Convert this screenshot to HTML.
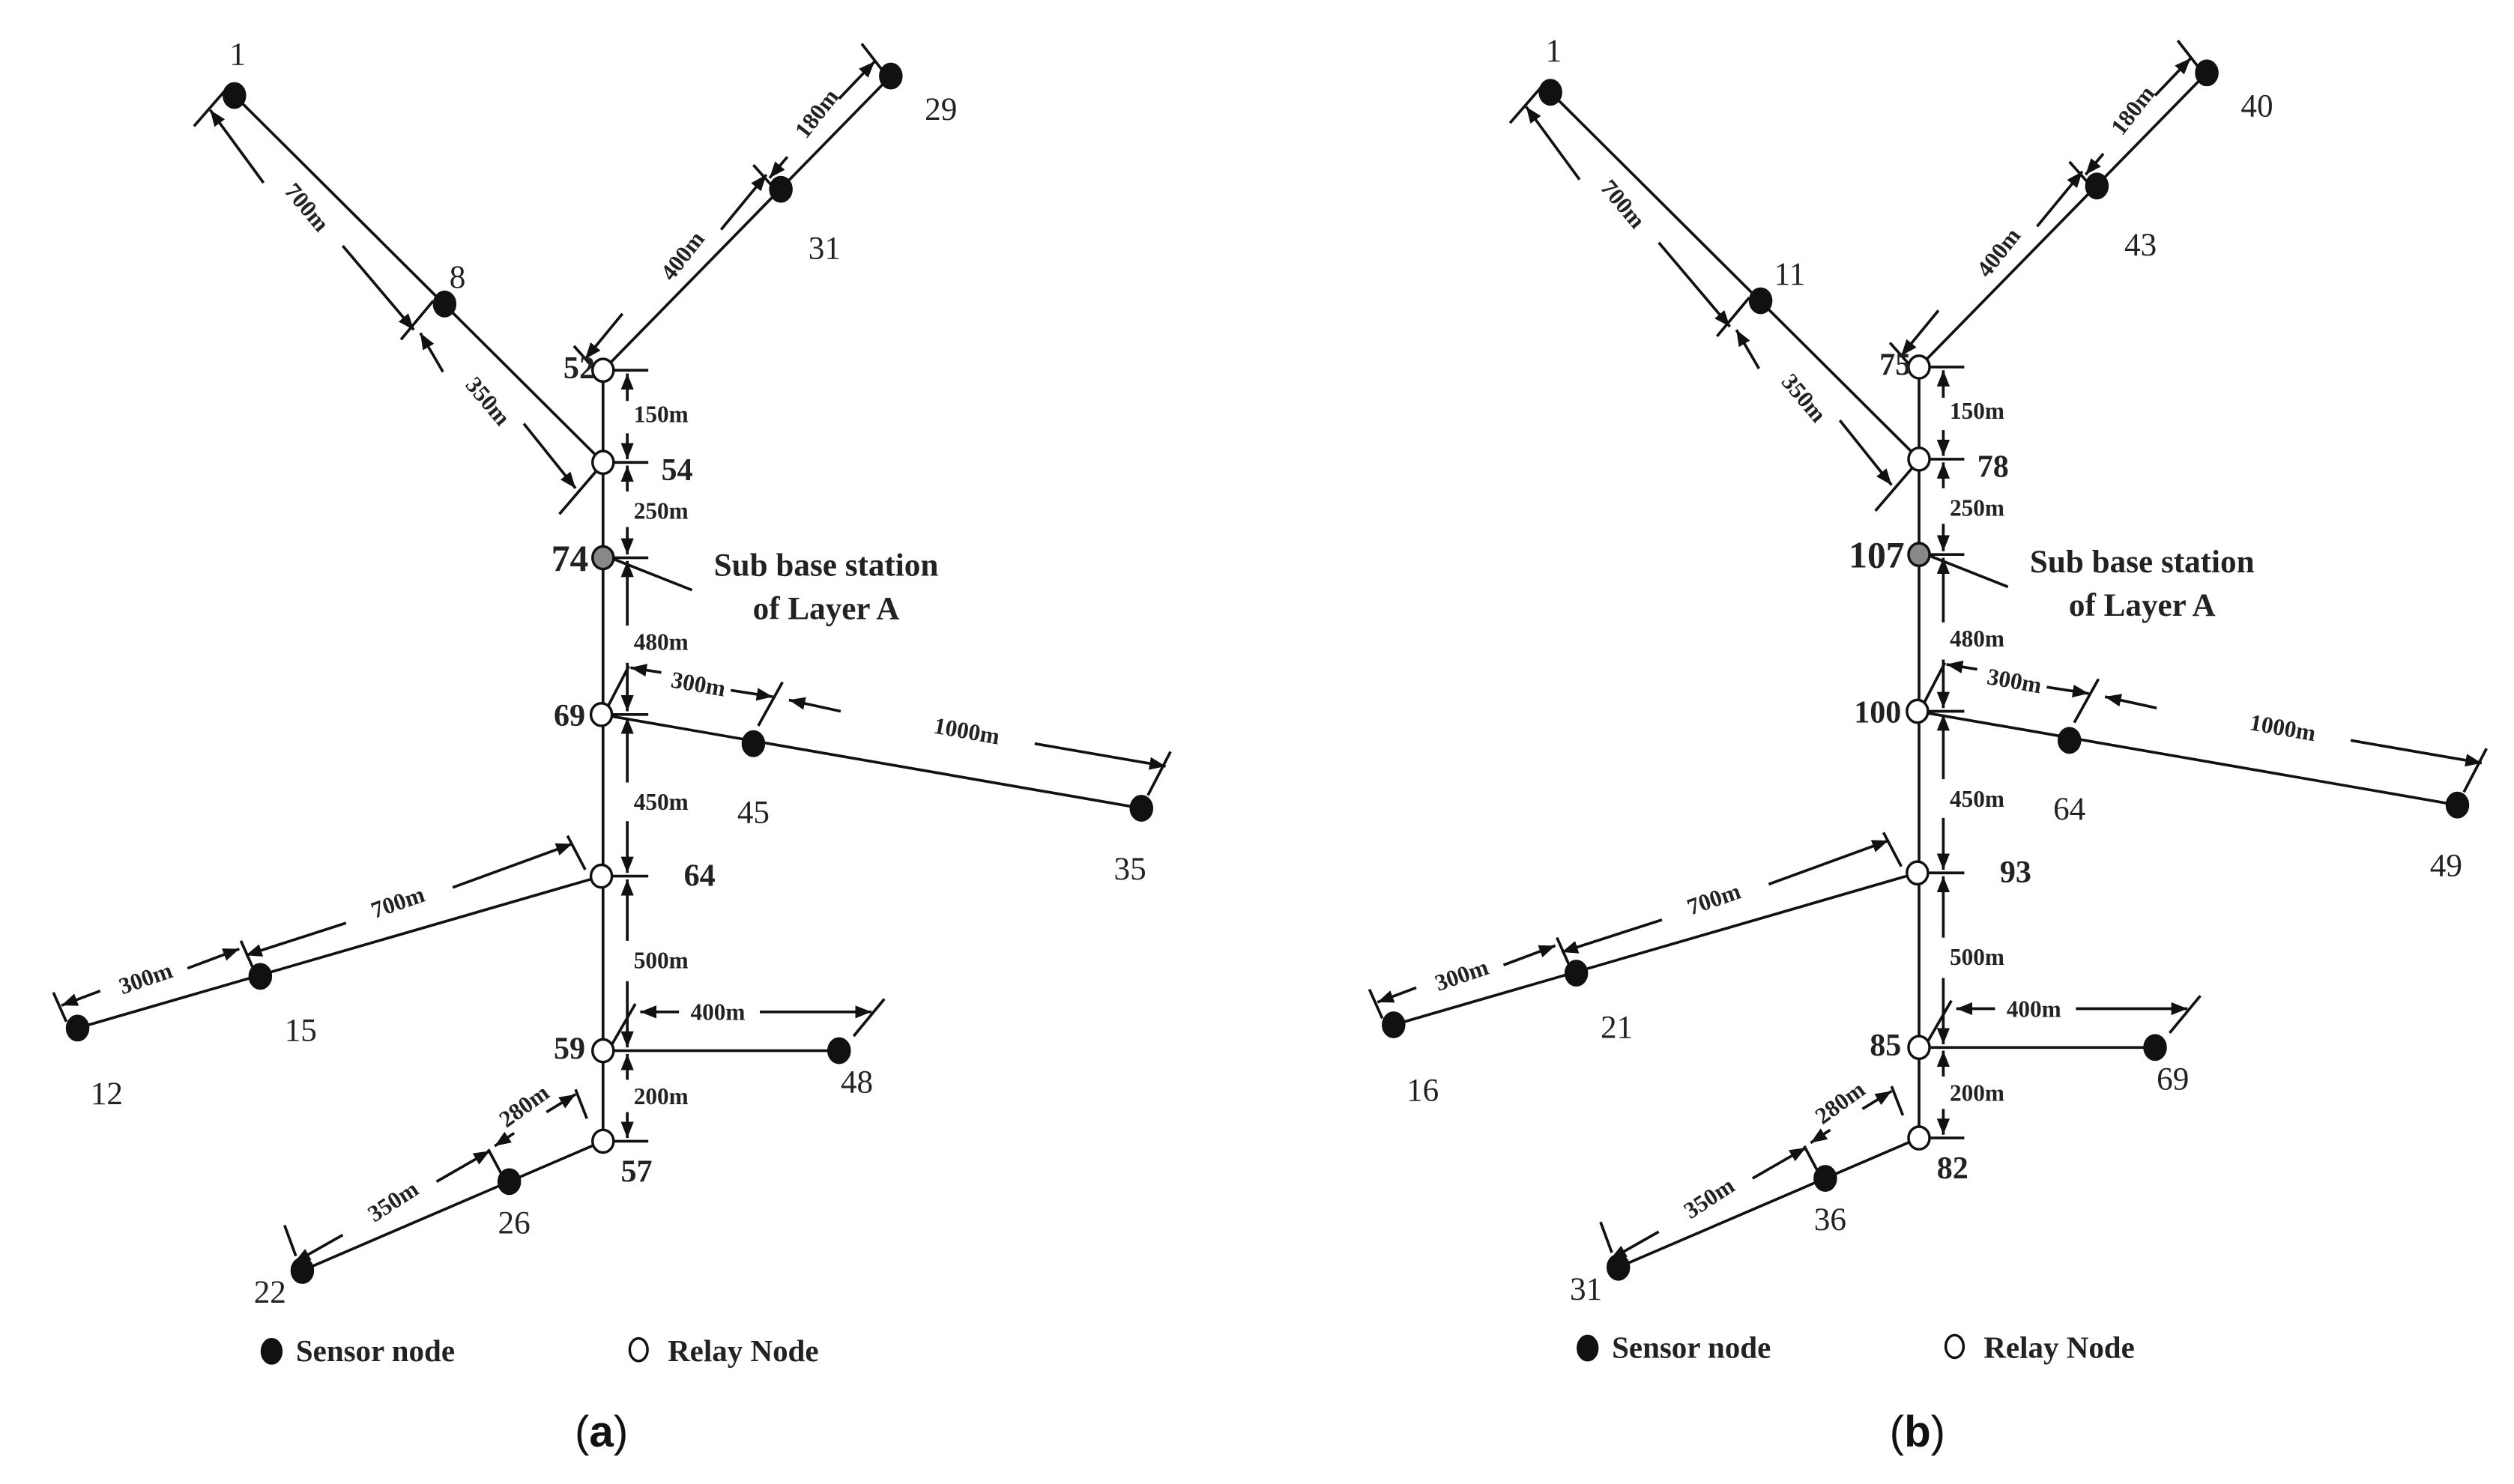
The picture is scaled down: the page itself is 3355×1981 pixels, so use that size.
<!DOCTYPE html>
<html><head><meta charset="utf-8"><style>
html,body{margin:0;padding:0;background:#fff;}
svg{display:block;}
.n{font-family:"Liberation Serif",serif;font-size:20px;fill:#222;}
.b{font-family:"Liberation Serif",serif;font-size:19.5px;font-weight:bold;fill:#222;}
.d{font-family:"Liberation Serif",serif;font-size:14.5px;font-weight:bold;fill:#222;}
.t{font-family:"Liberation Serif",serif;font-size:20px;font-weight:bold;fill:#222;}
.c{font-family:"Liberation Sans",sans-serif;font-size:27px;fill:#111;}
</style></head><body>
<svg width="3355" height="1981" viewBox="0 0 1555 918" xmlns="http://www.w3.org/2000/svg">
<defs>
<marker id="ah" markerWidth="10" markerHeight="8" refX="10" refY="4" orient="auto" markerUnits="userSpaceOnUse">
<path d="M0,0 L10,4 L0,8 Z" fill="#111"/></marker>
<g id="geo" stroke="#111" stroke-width="1.7" fill="none">
<line x1="145" y1="59" x2="373" y2="286"/>
<line x1="551" y1="47" x2="373" y2="229"/>
<line x1="373" y1="229" x2="373" y2="706"/>
<line x1="372" y1="442" x2="706" y2="500"/>
<line x1="372" y1="542" x2="48" y2="636"/>
<line x1="373" y1="650" x2="519" y2="650"/>
<line x1="373" y1="706" x2="187" y2="786"/>
<line x1="120" y1="78" x2="140" y2="55"/>
<line x1="248" y1="210" x2="268" y2="186"/>
<line x1="346" y1="318" x2="370" y2="290"/>
<line x1="163" y1="113" x2="130" y2="68" marker-end="url(#ah)"/>
<line x1="212" y1="152" x2="256" y2="204" marker-end="url(#ah)"/>
<line x1="274" y1="230" x2="260" y2="206" marker-end="url(#ah)"/>
<line x1="324" y1="262" x2="356" y2="302" marker-end="url(#ah)"/>
<line x1="355" y1="214" x2="371" y2="232"/>
<line x1="466" y1="102" x2="482" y2="120"/>
<line x1="533" y1="27" x2="547" y2="45"/>
<line x1="385" y1="194" x2="362" y2="222" marker-end="url(#ah)"/>
<line x1="446" y1="142" x2="474" y2="108" marker-end="url(#ah)"/>
<line x1="487" y1="97" x2="476" y2="110" marker-end="url(#ah)"/>
<line x1="519" y1="61" x2="541" y2="38" marker-end="url(#ah)"/>
<line x1="373" y1="229" x2="401" y2="229"/>
<line x1="373" y1="286" x2="401" y2="286"/>
<line x1="373" y1="345" x2="401" y2="345"/>
<line x1="373" y1="442" x2="401" y2="442"/>
<line x1="373" y1="542" x2="401" y2="542"/>
<line x1="373" y1="706" x2="401" y2="706"/>
<line x1="388" y1="248" x2="388" y2="231" marker-end="url(#ah)"/>
<line x1="388" y1="268" x2="388" y2="284" marker-end="url(#ah)"/>
<line x1="388" y1="304" x2="388" y2="288" marker-end="url(#ah)"/>
<line x1="388" y1="326" x2="388" y2="343" marker-end="url(#ah)"/>
<line x1="388" y1="387" x2="388" y2="347" marker-end="url(#ah)"/>
<line x1="388" y1="410" x2="388" y2="440" marker-end="url(#ah)"/>
<line x1="388" y1="484" x2="388" y2="444" marker-end="url(#ah)"/>
<line x1="388" y1="508" x2="388" y2="540" marker-end="url(#ah)"/>
<line x1="388" y1="582" x2="388" y2="544" marker-end="url(#ah)"/>
<line x1="388" y1="607" x2="388" y2="648" marker-end="url(#ah)"/>
<line x1="388" y1="668" x2="388" y2="652" marker-end="url(#ah)"/>
<line x1="388" y1="688" x2="388" y2="704" marker-end="url(#ah)"/>
<line x1="380" y1="346" x2="428" y2="365"/>
<line x1="376" y1="437" x2="389" y2="412"/>
<line x1="469" y1="449" x2="484" y2="422"/>
<line x1="710" y1="492" x2="724" y2="465"/>
<line x1="409" y1="416" x2="390" y2="413" marker-end="url(#ah)"/>
<line x1="452" y1="427" x2="478" y2="431" marker-end="url(#ah)"/>
<line x1="520" y1="440" x2="488" y2="433" marker-end="url(#ah)"/>
<line x1="640" y1="460" x2="721" y2="474" marker-end="url(#ah)"/>
<line x1="351" y1="517" x2="362" y2="538"/>
<line x1="149" y1="582" x2="157" y2="600"/>
<line x1="33" y1="614" x2="41" y2="632"/>
<line x1="280" y1="549" x2="354" y2="522" marker-end="url(#ah)"/>
<line x1="214" y1="571" x2="152" y2="591" marker-end="url(#ah)"/>
<line x1="116" y1="599" x2="148" y2="587" marker-end="url(#ah)"/>
<line x1="62" y1="613" x2="38" y2="622" marker-end="url(#ah)"/>
<line x1="378" y1="647" x2="393" y2="621"/>
<line x1="528" y1="641" x2="547" y2="618"/>
<line x1="420" y1="626" x2="396" y2="626" marker-end="url(#ah)"/>
<line x1="470" y1="626" x2="539" y2="626" marker-end="url(#ah)"/>
<line x1="356" y1="674" x2="363" y2="692"/>
<line x1="302" y1="711" x2="310" y2="726"/>
<line x1="176" y1="758" x2="183" y2="777"/>
<line x1="338" y1="688" x2="356" y2="677" marker-end="url(#ah)"/>
<line x1="318" y1="701" x2="306" y2="709" marker-end="url(#ah)"/>
<line x1="270" y1="731" x2="303" y2="712" marker-end="url(#ah)"/>
<line x1="212" y1="764" x2="182" y2="781" marker-end="url(#ah)"/>
<g stroke="#111" stroke-width="1.6" fill="#111">
<ellipse cx="145" cy="59" rx="6.5" ry="7.5"/>
<ellipse cx="275" cy="188" rx="6.5" ry="7.5"/>
<ellipse cx="551" cy="47" rx="6.5" ry="7.5"/>
<ellipse cx="483" cy="117" rx="6.5" ry="7.5"/>
<ellipse cx="466" cy="460" rx="6.5" ry="7.5"/>
<ellipse cx="706" cy="500" rx="6.5" ry="7.5"/>
<ellipse cx="161" cy="604" rx="6.5" ry="7.5"/>
<ellipse cx="48" cy="636" rx="6.5" ry="7.5"/>
<ellipse cx="519" cy="650" rx="6.5" ry="7.5"/>
<ellipse cx="315" cy="731" rx="6.5" ry="7.5"/>
<ellipse cx="187" cy="786" rx="6.5" ry="7.5"/>
<ellipse cx="168" cy="836" rx="6" ry="7.5"/>
</g>
<g stroke="#111" stroke-width="1.6" fill="#fff">
<ellipse cx="373" cy="229" rx="6.5" ry="7"/>
<ellipse cx="373" cy="286" rx="6.5" ry="7"/>
<ellipse cx="372" cy="442" rx="6.5" ry="7"/>
<ellipse cx="372" cy="542" rx="6.5" ry="7"/>
<ellipse cx="373" cy="650" rx="6.5" ry="7"/>
<ellipse cx="373" cy="706" rx="6.5" ry="7"/>
<ellipse cx="395" cy="835" rx="5.5" ry="7"/>
<ellipse cx="373" cy="345" rx="6.5" ry="7" fill="#888"/>
</g>
</g>
<g id="dims" class="d">
<text x="392" y="261">150m</text>
<text x="392" y="321">250m</text>
<text x="392" y="402">480m</text>
<text x="392" y="501">450m</text>
<text x="392" y="599">500m</text>
<text x="392" y="683">200m</text>
<text transform="translate(190,128) rotate(50)" text-anchor="middle" y="5">700m</text>
<text transform="translate(302,248) rotate(50)" text-anchor="middle" y="5">350m</text>
<text transform="translate(422,158) rotate(-52)" text-anchor="middle" y="5">400m</text>
<text transform="translate(505,70) rotate(-52)" text-anchor="middle" y="5">180m</text>
<text transform="translate(432,423) rotate(10)" text-anchor="middle" y="5">300m</text>
<text transform="translate(598,452) rotate(10)" text-anchor="middle" y="5">1000m</text>
<text transform="translate(246,558) rotate(-19)" text-anchor="middle" y="5">700m</text>
<text transform="translate(90,605) rotate(-19)" text-anchor="middle" y="5">300m</text>
<text x="444" y="631" text-anchor="middle">400m</text>
<text transform="translate(324,684) rotate(-36)" text-anchor="middle" y="5">280m</text>
<text transform="translate(243,743) rotate(-33)" text-anchor="middle" y="5">350m</text>
</g>
</defs>
<use href="#geo"/>
<use href="#geo" transform="translate(814,-2)"/>

<g>
<text class="n" x="147" y="40" text-anchor="middle">1</text>
<text class="n" x="283" y="178" text-anchor="middle">8</text>
<text class="n" x="582" y="74" text-anchor="middle">29</text>
<text class="n" x="510" y="160" text-anchor="middle">31</text>
<text class="n" x="466" y="509" text-anchor="middle">45</text>
<text class="n" x="699" y="544" text-anchor="middle">35</text>
<text class="n" x="186" y="644" text-anchor="middle">15</text>
<text class="n" x="66" y="683" text-anchor="middle">12</text>
<text class="n" x="530" y="676" text-anchor="middle">48</text>
<text class="n" x="318" y="763" text-anchor="middle">26</text>
<text class="n" x="167" y="806" text-anchor="middle">22</text>
<text class="b" x="368" y="234" text-anchor="end">52</text>
<text class="b" x="409" y="297">54</text>
<text class="b" x="364" y="353" text-anchor="end" style="font-size:23px">74</text>
<text class="b" x="362" y="449" text-anchor="end">69</text>
<text class="b" x="423" y="548">64</text>
<text class="b" x="362" y="655" text-anchor="end">59</text>
<text class="b" x="384" y="731">57</text>
<text class="t" x="511" y="356" text-anchor="middle">Sub base station</text>
<text class="t" x="511" y="383" text-anchor="middle">of Layer A</text>
<text class="t" x="183" y="842" style="font-size:19px">Sensor node</text>
<text class="t" x="413" y="842" style="font-size:19px">Relay Node</text>
<text class="c" x="372" y="895" text-anchor="middle">(<tspan font-weight="bold">a</tspan>)</text>
</g>
<use href="#dims"/>

<g transform="translate(814,-2)">
<text class="n" x="147" y="40" text-anchor="middle">1</text>
<text class="n" x="293" y="178" text-anchor="middle">11</text>
<text class="n" x="582" y="74" text-anchor="middle">40</text>
<text class="n" x="510" y="160" text-anchor="middle">43</text>
<text class="n" x="466" y="509" text-anchor="middle">64</text>
<text class="n" x="699" y="544" text-anchor="middle">49</text>
<text class="n" x="186" y="644" text-anchor="middle">21</text>
<text class="n" x="66" y="683" text-anchor="middle">16</text>
<text class="n" x="530" y="676" text-anchor="middle">69</text>
<text class="n" x="318" y="763" text-anchor="middle">36</text>
<text class="n" x="167" y="806" text-anchor="middle">31</text>
<text class="b" x="368" y="234" text-anchor="end">75</text>
<text class="b" x="409" y="297">78</text>
<text class="b" x="364" y="353" text-anchor="end" style="font-size:23px">107</text>
<text class="b" x="362" y="449" text-anchor="end">100</text>
<text class="b" x="423" y="548">93</text>
<text class="b" x="362" y="655" text-anchor="end">85</text>
<text class="b" x="384" y="731">82</text>
<text class="t" x="511" y="356" text-anchor="middle">Sub base station</text>
<text class="t" x="511" y="383" text-anchor="middle">of Layer A</text>
<text class="t" x="183" y="842" style="font-size:19px">Sensor node</text>
<text class="t" x="413" y="842" style="font-size:19px">Relay Node</text>
<text class="c" x="372" y="897" text-anchor="middle">(<tspan font-weight="bold">b</tspan>)</text>
<g class="d">
<text x="392" y="261">150m</text>
<text x="392" y="321">250m</text>
<text x="392" y="402">480m</text>
<text x="392" y="501">450m</text>
<text x="392" y="599">500m</text>
<text x="392" y="683">200m</text>
<text transform="translate(190,128) rotate(50)" text-anchor="middle" y="5">700m</text>
<text transform="translate(302,248) rotate(50)" text-anchor="middle" y="5">350m</text>
<text transform="translate(422,158) rotate(-52)" text-anchor="middle" y="5">400m</text>
<text transform="translate(505,70) rotate(-52)" text-anchor="middle" y="5">180m</text>
<text transform="translate(432,423) rotate(10)" text-anchor="middle" y="5">300m</text>
<text transform="translate(598,452) rotate(10)" text-anchor="middle" y="5">1000m</text>
<text transform="translate(246,558) rotate(-19)" text-anchor="middle" y="5">700m</text>
<text transform="translate(90,605) rotate(-19)" text-anchor="middle" y="5">300m</text>
<text x="444" y="631" text-anchor="middle">400m</text>
<text transform="translate(324,684) rotate(-36)" text-anchor="middle" y="5">280m</text>
<text transform="translate(243,743) rotate(-33)" text-anchor="middle" y="5">350m</text>
</g>
</g>
</svg>
</body></html>
